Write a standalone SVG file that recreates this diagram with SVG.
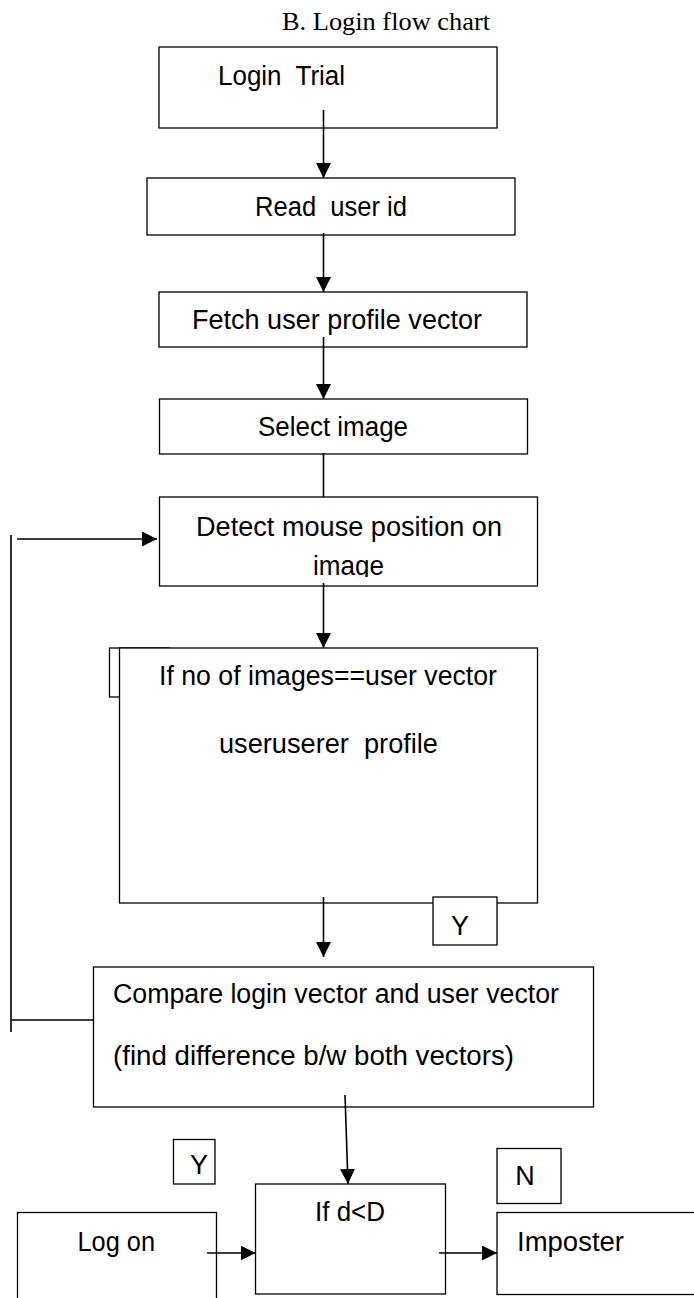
<svg xmlns="http://www.w3.org/2000/svg" width="694" height="1298" viewBox="0 0 694 1298">
  <style>
    .box { fill: #ffffff; stroke: #000000; stroke-width: 1.3; }
    .lbl { font-family: "Liberation Sans", Arial, sans-serif; font-size: 27px; fill: #000000; }
    .ttl { font-family: "Liberation Serif", "Times New Roman", serif; font-size: 26px; fill: #000000; }
    .wire { fill: none; stroke: #000000; stroke-width: 1.6; }
  </style>
  <defs>
    <marker id="arrow" markerUnits="userSpaceOnUse" markerWidth="16" markerHeight="15" refX="15" refY="7.5" orient="auto">
      <path d="M0,0 L15,7.5 L0,15 Z" fill="#000000"/>
    </marker>
    <clipPath id="clipImage">
      <rect x="150" y="500" width="400" height="77"/>
    </clipPath>
  </defs>
  <rect width="694" height="1298" fill="#ffffff"/>

  <text class="ttl" x="282" y="30" textLength="208" lengthAdjust="spacingAndGlyphs">B. Login flow chart</text>

  <g id="login-trial">
    <rect class="box" x="159" y="47" width="338" height="81"/>
    <text class="lbl" x="218" y="85" textLength="127" lengthAdjust="spacingAndGlyphs" xml:space="preserve">Login  Trial</text>
  </g>

  <g id="read-user-id">
    <rect class="box" x="147" y="178" width="368" height="57"/>
    <text class="lbl" x="255" y="216" textLength="152" lengthAdjust="spacingAndGlyphs" xml:space="preserve">Read  user id</text>
  </g>

  <g id="fetch-profile">
    <rect class="box" x="159" y="292" width="368" height="55"/>
    <text class="lbl" x="192" y="329" textLength="290" lengthAdjust="spacingAndGlyphs">Fetch user profile vector</text>
  </g>

  <g id="select-image">
    <rect class="box" x="159.5" y="399" width="368" height="55"/>
    <text class="lbl" x="258" y="436" textLength="150" lengthAdjust="spacingAndGlyphs">Select image</text>
  </g>

  <g id="detect-mouse">
    <rect class="box" x="159.5" y="497" width="378" height="89"/>
    <text class="lbl" x="196" y="536" textLength="306" lengthAdjust="spacingAndGlyphs">Detect mouse position on</text>
    <text class="lbl" x="313" y="575" textLength="71" lengthAdjust="spacingAndGlyphs" clip-path="url(#clipImage)">image</text>
  </g>

  <g id="check-count">
    <rect class="box" x="109.5" y="648" width="60" height="49"/>
    <rect class="box" x="119.5" y="648" width="418" height="255"/>
    <text class="lbl" x="159" y="685" textLength="338" lengthAdjust="spacingAndGlyphs">If no of images==user vector</text>
    <text class="lbl" x="219" y="753" textLength="219" lengthAdjust="spacingAndGlyphs" xml:space="preserve">useruserer  profile</text>
  </g>

  <g id="label-y1">
    <rect class="box" x="433" y="897" width="64" height="48"/>
    <text class="lbl" x="460" y="935" text-anchor="middle">Y</text>
  </g>

  <g id="compare">
    <rect class="box" x="93.5" y="967" width="500" height="140"/>
    <text class="lbl" x="113" y="1003" textLength="446" lengthAdjust="spacingAndGlyphs">Compare login vector and user vector</text>
    <text class="lbl" x="113" y="1065" textLength="401" lengthAdjust="spacingAndGlyphs">(find difference b/w both vectors)</text>
  </g>

  <g id="label-y2">
    <rect class="box" x="173.5" y="1139.5" width="41.5" height="44.5"/>
    <text class="lbl" x="199" y="1174" text-anchor="middle">Y</text>
  </g>

  <g id="label-n">
    <rect class="box" x="497" y="1148.5" width="64" height="55"/>
    <text class="lbl" x="525" y="1185" text-anchor="middle">N</text>
  </g>

  <g id="decision">
    <rect class="box" x="255.5" y="1184" width="190" height="110"/>
    <text class="lbl" x="315" y="1221" textLength="70" lengthAdjust="spacingAndGlyphs">If d&lt;D</text>
  </g>

  <g id="log-on">
    <rect class="box" x="17.5" y="1212.5" width="199" height="100"/>
    <text class="lbl" x="77.5" y="1251" textLength="77.5" lengthAdjust="spacingAndGlyphs">Log on</text>
  </g>

  <g id="imposter">
    <rect class="box" x="497" y="1212.5" width="220" height="82"/>
    <text class="lbl" x="517" y="1251" textLength="107" lengthAdjust="spacingAndGlyphs">Imposter</text>
  </g>

  <g id="connectors">
    <path class="wire" d="M323.5,110 V178" marker-end="url(#arrow)"/>
    <path class="wire" d="M323.5,233 V292" marker-end="url(#arrow)"/>
    <path class="wire" d="M323.5,337 V399" marker-end="url(#arrow)"/>
    <path class="wire" d="M323.5,453 V497"/>
    <path class="wire" d="M323.5,583 V648" marker-end="url(#arrow)"/>
    <path class="wire" d="M323.5,897 V957" marker-end="url(#arrow)"/>
    <path class="wire" d="M93.5,1020 H11" stroke-width="2"/>
    <path class="wire" d="M11,535 V1032"/>
    <path class="wire" d="M17,539 H157" marker-end="url(#arrow)"/>
    <path class="wire" d="M345,1095 L348,1184" marker-end="url(#arrow)"/>
    <path class="wire" d="M207,1253 H255.5" marker-end="url(#arrow)"/>
    <path class="wire" d="M439,1253 H497" marker-end="url(#arrow)"/>
  </g>
</svg>
